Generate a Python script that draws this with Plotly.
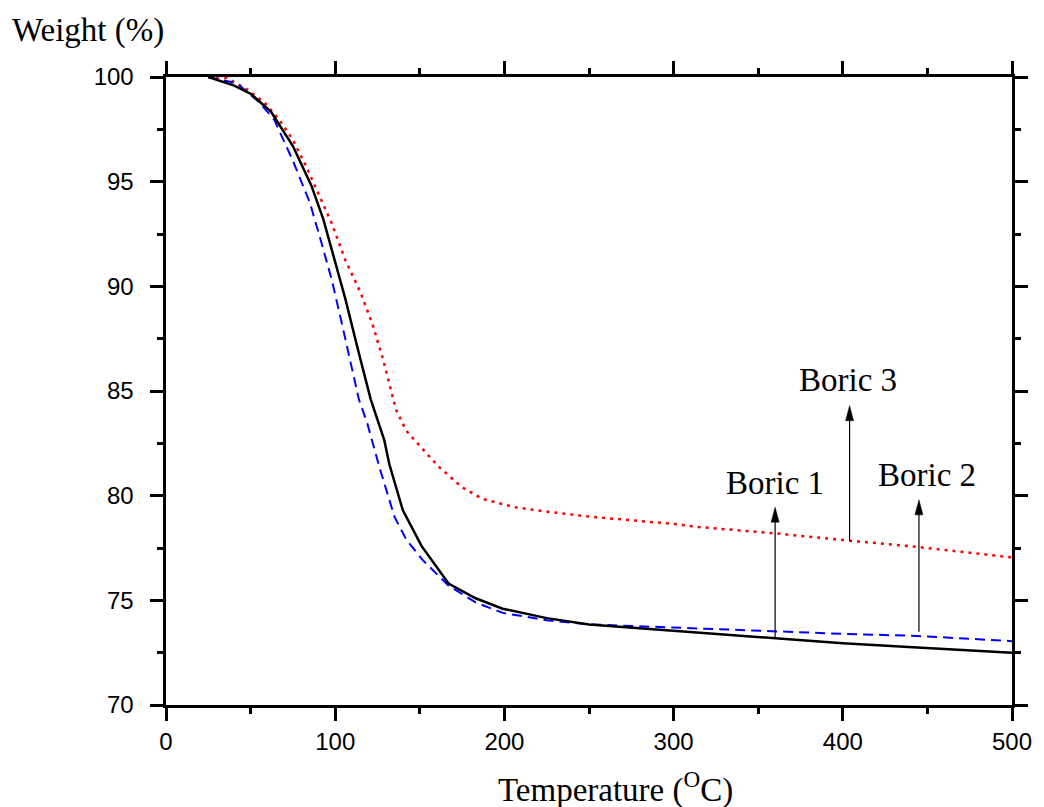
import plotly.graph_objects as go

# Boric 1 (black solid)
t1 = [25, 40, 50, 62, 75, 86, 93, 100, 106, 114, 121, 129, 132, 140, 151, 167, 183, 199, 225, 250, 300, 360, 400, 444, 500]
w1 = [100, 99.6, 99.2, 98.35, 96.7, 94.8, 93.2, 91.2, 89.4, 86.8, 84.6, 82.65, 81.5, 79.3, 77.6, 75.8, 75.1, 74.6, 74.15, 73.85, 73.55, 73.2, 72.95, 72.75, 72.5]

# Boric 2 (blue dashed)
t2 = [25, 42, 55, 64, 75, 85, 92, 98, 104, 108, 114, 119, 126, 135, 142, 152, 167, 183, 199, 225, 250, 300, 315, 360, 400, 444, 491, 500]
w2 = [100, 99.7, 98.8, 97.95, 96.0, 94.0, 92.05, 90.3, 88.2, 86.8, 84.6, 83.45, 81.4, 79.0, 77.9, 76.9, 75.7, 74.9, 74.4, 74.05, 73.85, 73.7, 73.65, 73.5, 73.4, 73.3, 73.1, 73.05]

# Boric 3 (red dotted)
t3 = [25, 36, 47, 58, 67, 75, 83, 91, 98, 106, 115, 122, 128, 136, 142, 152, 161, 175, 187, 206, 224, 250, 300, 315, 360, 404, 444, 500]
w3 = [100, 99.95, 99.45, 98.8, 97.95, 97.0, 95.7, 94.3, 93.0, 91.25, 89.7, 88.2, 86.6, 84.1, 83.1, 82.2, 81.4, 80.4, 79.85, 79.45, 79.25, 79.0, 78.65, 78.5, 78.2, 77.85, 77.55, 77.05]

# Annotation labels
labels = ["Boric 1", "Boric 2", "Boric 3"]
label_x = [360, 450, 403]
label_y = [80.6, 80.98, 85.52]
arrow_x = [360, 445, 404]
arrow_tail = [73.2, 73.5, 77.85]
arrow_head = [79.45, 79.8, 84.3]

x_ticks = [0, 100, 200, 300, 400, 500]
y_ticks = [70, 75, 80, 85, 90, 95, 100]

X_RANGE = [0, 500]
Y_RANGE = [70, 100]
PLOT_W, PLOT_H = 849, 628
px_x = (X_RANGE[1] - X_RANGE[0]) / PLOT_W   # data units per pixel
px_y = (Y_RANGE[1] - Y_RANGE[0]) / PLOT_H

SERIF = "Liberation Serif, Times New Roman, serif"
SANS = "Liberation Sans, Arial, sans-serif"

fig = go.Figure()
fig.add_trace(go.Scatter(x=t3, y=w3, mode="lines",
                         line=dict(color="#ff0000", width=2.5, dash="3px,5px")))
fig.add_trace(go.Scatter(x=t2, y=w2, mode="lines",
                         line=dict(color="#0000ff", width=2, dash="10px,6px")))
fig.add_trace(go.Scatter(x=t1, y=w1, mode="lines",
                         line=dict(color="black", width=2.5)))

head_len = 15 * px_y
head_half = 4 * px_x
for i in range(3):
    x0 = arrow_x[i]
    fig.add_shape(type="line", xref="x", yref="y", x0=x0, x1=x0,
                  y0=arrow_tail[i], y1=arrow_head[i] - head_len * 0.8,
                  line=dict(color="black", width=1.2))
    path = (f"M {x0},{arrow_head[i]} L {x0 - head_half},{arrow_head[i] - head_len} "
            f"L {x0 + head_half},{arrow_head[i] - head_len} Z")
    fig.add_shape(type="path", xref="x", yref="y", path=path,
                  fillcolor="black", line=dict(color="black", width=0.5))
    fig.add_annotation(x=label_x[i], y=label_y[i], xref="x", yref="y", text=labels[i],
                       showarrow=False, font=dict(family=SERIF, size=33, color="black"))

fig.add_annotation(x=(88 - 166) / PLOT_W, y=1 + (77 - 30) / PLOT_H, xref="paper", yref="paper",
                   text="Weight (%)", showarrow=False, xanchor="center", yanchor="middle",
                   font=dict(family=SERIF, size=33, color="black"))
fig.add_annotation(x=(617 - 166) / PLOT_W, y=-(787 - 705) / PLOT_H, xref="paper", yref="paper",
                   text="Temperature (<sup>O</sup>C)", showarrow=False,
                   xanchor="center", yanchor="middle",
                   font=dict(family=SERIF, size=33, color="black"))

axis_common = dict(showline=True, linecolor="black", linewidth=3, mirror="ticks",
                   ticks="outside", tickwidth=3, tickcolor="black", ticklen=13,
                   showgrid=False, zeroline=False,
                   tickfont=dict(family=SANS, size=24, color="black"))

fig.update_xaxes(range=X_RANGE, tickvals=x_ticks, ticktext=[str(v) for v in x_ticks],
                 minor=dict(dtick=50, tick0=0, ticks="outside", ticklen=6, tickwidth=3, tickcolor="black"),
                 **axis_common)
fig.update_yaxes(range=Y_RANGE, tickvals=y_ticks,
                 ticktext=[f"{v}\u00a0\u2009" for v in y_ticks],
                 minor=dict(dtick=2.5, tick0=70, ticks="outside", ticklen=6, tickwidth=3, tickcolor="black"),
                 **axis_common)

# page body has an 8px margin, so the figure is offset by 8px
fig.update_layout(width=1036, height=799, showlegend=False,
                  plot_bgcolor="white", paper_bgcolor="white",
                  margin=dict(l=158, r=29, t=69, b=102))

fig.write_html("out.html")
